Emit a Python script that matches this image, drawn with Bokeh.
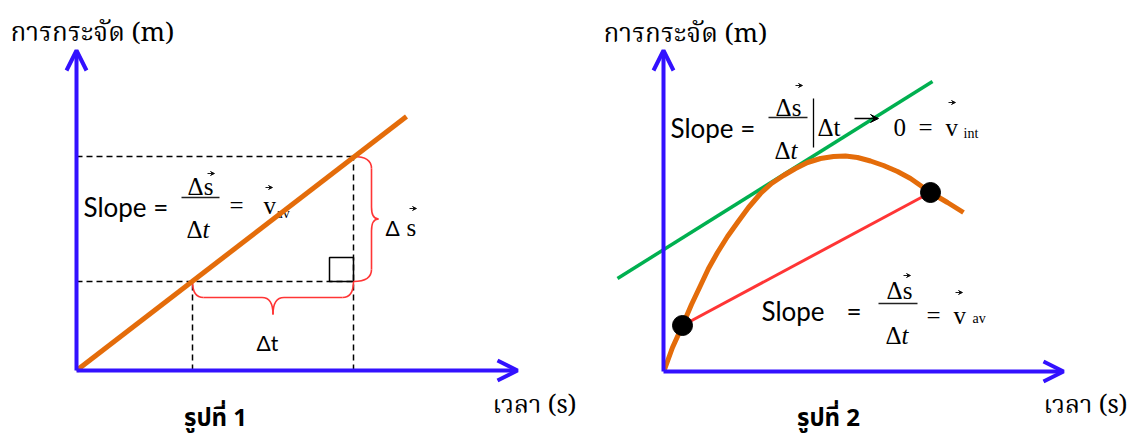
from bokeh.plotting import figure
from bokeh.models import Range1d, Arrow, OpenHead, VeeHead
from bokeh.layouts import row
from bokeh.core.properties import value
from bokeh.embed import file_html
from bokeh.resources import INLINE

# ---------------- data ----------------
# Figure 1: uniform motion (straight line)
p1_line_t = [0.0, 33.0]
p1_line_s = [0.0, 25.4]
p1_t_marks = [11.6, 27.7]     # t1, t2
p1_s_marks = [8.9, 21.4]      # s1, s2

# Figure 2: curved displacement-time graph
p2_curve_t = [0.1, 0.9, 1.9, 2.8, 3.7, 4.5, 5.4, 6.4, 7.4, 8.5, 9.7, 10.8, 12.0, 13.2, 14.4,
              15.7, 17.0, 18.2, 19.4, 20.7, 22.0, 23.4, 24.7, 25.7, 26.7, 28.4, 30.0]
p2_curve_s = [0.2, 2.4, 4.6, 6.7, 8.6, 10.3, 11.9, 13.5, 14.9, 16.4, 17.8, 18.8, 19.6, 20.3, 20.9,
              21.3, 21.5, 21.55, 21.4, 21.05, 20.6, 20.0, 19.3, 18.6, 17.9, 16.9, 15.9]
p2_tangent_t = [-4.6, 26.9]
p2_tangent_s = [9.3, 29.0]
p2_points_t = [1.9, 26.7]
p2_points_s = [4.6, 17.9]

y_label = "การกระจัด (m)"
x_label = "เวลา (s)"
titles = ["รูปที่ 1", "รูปที่ 2"]

BLUE = "#3311FF"
ORANGE = "#E46C0A"
GREEN = "#00B050"
RED = "#FF3535"

SANS = "Lato"
SERIF = "Liberation Serif"
THAI = "Noto Serif Thai, DejaVu Serif, serif"
THAI_B = "Noto Sans Thai, DejaVu Sans, sans-serif"


def make_fig(width, xr, yr):
    p = figure(width=width, height=438, x_range=Range1d(*xr), y_range=Range1d(*yr),
               x_axis_type=None, y_axis_type=None, output_backend="svg",
               toolbar_location=None, min_border=0)
    p.grid.visible = False
    p.outline_line_color = None
    return p


def txt(p, x, y, s, font, size, align="left", baseline="alphabetic", style="normal"):
    p.text(x=[x], y=[y], text=[s], text_font=value(font), text_font_size=f"{size}px",
           text_align=align, text_baseline=baseline, text_font_style=style, text_color="black")


def vec(p, x, y, L=0.7):
    p.add_layout(Arrow(x_start=x, y_start=y, x_end=x + L, y_end=y, line_width=0.9,
                       line_color="black",
                       end=VeeHead(size=4, line_color="black", fill_color="black", line_width=0.8)))


def axis_arrows(p, xt, yt):
    p.add_layout(Arrow(x_start=0, y_start=0, x_end=0, y_end=yt, line_width=4, line_color=BLUE,
                       end=OpenHead(size=20, line_width=4, line_color=BLUE)))
    p.add_layout(Arrow(x_start=0, y_start=0, x_end=xt, y_end=0, line_width=4, line_color=BLUE,
                       end=OpenHead(size=20, line_width=4, line_color=BLUE)))


def brace_v(p, x0, ya, yb, d, tip, r, **kw):
    mid = (ya + yb) / 2
    xd = x0 + d
    p.quadratic(x0=[x0, xd, xd, xd], y0=[yb, mid + r, mid - r, ya + r],
                x1=[xd, xd + tip, xd + tip, x0], y1=[yb - r, mid, mid, ya],
                cx=[xd, xd, xd, xd], cy=[yb, mid, mid, ya], **kw)
    p.segment(x0=[xd, xd], y0=[yb - r, mid - r], x1=[xd, xd], y1=[mid + r, ya + r], **kw)


def brace_h(p, xa, xb, y0, d, tip, r, **kw):
    mid = (xa + xb) / 2
    yd = y0 - d
    p.quadratic(x0=[xa, mid - r, mid + r, xb - r], y0=[y0, yd, yd, yd],
                x1=[xa + r, mid, mid, xb], y1=[yd, yd - tip, yd - tip, y0],
                cx=[xa, mid, mid, xb], cy=[yd, yd, yd, yd], **kw)
    p.segment(x0=[xa + r, mid + r], y0=[yd, yd], x1=[mid - r, xb - r], y1=[yd, yd], **kw)


# ---------------- figure 1 ----------------
p1 = make_fig(590, (-7.6, 51.4), (-6.8, 37.0))
t1, t2 = p1_t_marks
s1, s2 = p1_s_marks

txt(p1, -6.6, 33.7, y_label, THAI, 26)
txt(p1, 41.6, -3.5, x_label, THAI, 25)
txt(p1, 13.9, -4.8, titles[0], THAI_B, 24, align="center", style="bold")

# dashed guides
dash = dict(line_color="black", line_width=1.5, line_dash="6 4")
p1.segment(x0=[0, 0, t1, t2], y0=[s2, s1, 0, 0], x1=[t2, t2, t1, t2], y1=[s2, s1, s1, s2], **dash)
# right-angle square
p1.quad(left=[t2 - 2.4], right=[t2], bottom=[s1], top=[s1 + 2.4], fill_color=None,
        line_color="black", line_width=1.5)

# braces
brace_v(p1, t2, s1, s2, 1.8, 0.7, 1.2, line_color=RED, line_width=1.6)
brace_h(p1, t1, t2, s1, 1.6, 1.7, 1.1, line_color=RED, line_width=1.6)

# labels for the braces
txt(p1, 30.9, 14.3, "Δ", SANS, 21)
txt(p1, 33.0, 14.3, "s", SERIF, 25)
vec(p1, 33.3, 16.2)
txt(p1, 19.1, 2.8, "Δt", SANS, 21, align="center")

# slope formula
txt(p1, 0.7, 16.4, "Slope =", SANS, 26)
txt(p1, 12.4, 18.4, "Δs", SERIF, 25, align="center")
vec(p1, 13.1, 19.7)
p1.segment(x0=[10.5], y0=[17.3], x1=[14.3], y1=[17.3], line_color="#222222", line_width=1.3)
txt(p1, 12.6, 14.1, "Δ", SERIF, 25, align="right")
txt(p1, 12.6, 14.1, "t", SERIF, 25, style="italic")
txt(p1, 15.3, 16.5, "=", SERIF, 25)
txt(p1, 18.7, 16.5, "v", SERIF, 25)
vec(p1, 18.9, 18.3)
txt(p1, 20.0, 15.7, "av", SERIF, 14)

# line
p1.line(p1_line_t, p1_line_s, line_color=ORANGE, line_width=5)
axis_arrows(p1, 44.1, 32.0)

# ---------------- figure 2 ----------------
p2 = make_fig(553, (-7.3, 48.0), (-6.7, 37.1))

txt(p2, -6.0, 33.7, y_label, THAI, 26)
txt(p2, 38.0, -3.4, x_label, THAI, 25)
txt(p2, 16.5, -4.7, titles[1], THAI_B, 24, align="center", style="bold")

# top formula
txt(p2, 0.7, 24.4, "Slope =", SANS, 26)
txt(p2, 12.5, 26.4, "Δs", SERIF, 25, align="center")
vec(p2, 13.2, 28.6)
p2.segment(x0=[10.5], y0=[25.4], x1=[14.4], y1=[25.4], line_color="#222222", line_width=1.3)
txt(p2, 12.7, 22.1, "Δ", SERIF, 25, align="right")
txt(p2, 12.7, 22.1, "t", SERIF, 25, style="italic")
p2.segment(x0=[15.0], y0=[27.3], x1=[15.0], y1=[22.4], line_color="black", line_width=1.3)
txt(p2, 15.4, 24.4, "Δt", SERIF, 25)
p2.add_layout(Arrow(x_start=19.1, y_start=25.3, x_end=21.5, y_end=25.3, line_width=1.3,
                    line_color="black",
                    end=VeeHead(size=8, line_color="black", fill_color="black", line_width=1)))
txt(p2, 23.0, 24.4, "0", SERIF, 25)
txt(p2, 25.5, 24.4, "=", SERIF, 25)
txt(p2, 28.2, 24.4, "v", SERIF, 25)
vec(p2, 28.5, 26.9)
txt(p2, 30.0, 23.8, "int", SERIF, 14)

# bottom formula
txt(p2, 9.8, 6.1, "Slope", SANS, 26)
txt(p2, 18.3, 6.1, "=", SANS, 26)
txt(p2, 23.6, 8.1, "Δs", SERIF, 25, align="center")
vec(p2, 24.0, 9.6)
p2.segment(x0=[21.5], y0=[6.8], x1=[25.4], y1=[6.8], line_color="#222222", line_width=1.3)
txt(p2, 23.8, 3.6, "Δ", SERIF, 25, align="right")
txt(p2, 23.8, 3.6, "t", SERIF, 25, style="italic")
txt(p2, 26.3, 5.6, "=", SERIF, 25)
txt(p2, 29.0, 5.6, "v", SERIF, 25)
vec(p2, 29.2, 7.9)
txt(p2, 30.9, 5.3, "av", SERIF, 14)

# lines
p2.line(p2_tangent_t, p2_tangent_s, line_color=GREEN, line_width=3.5)
p2.line(p2_points_t, p2_points_s, line_color=RED, line_width=3)
p2.line(p2_curve_t, p2_curve_s, line_color=ORANGE, line_width=5, line_join="round")
p2.scatter(p2_points_t, p2_points_s, size=20, color="black")
axis_arrows(p2, 40.0, 32.1)

layout = row(p1, p2)
open("out.html", "w").write(file_html(layout, INLINE))
